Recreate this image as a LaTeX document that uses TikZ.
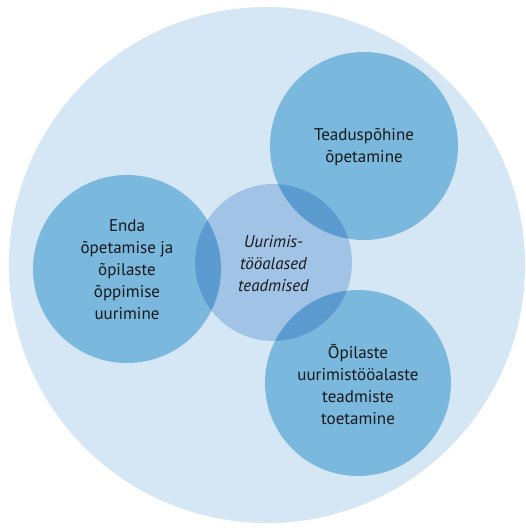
\documentclass[tikz,border=0pt]{standalone}
\usepackage{fontspec}
\setmainfont{PT Sans}
\definecolor{bgc}{RGB}{213,231,245}
\definecolor{outc}{RGB}{122,184,222}
\definecolor{midc}{RGB}{161,195,230}
\definecolor{ovc}{RGB}{92,155,208}
\begin{document}
\begin{tikzpicture}[x=1pt,y=-1pt,
  lbl/.style={align=center,font=\fontsize{17}{22}\selectfont,text=black!90}]
\useasboundingbox (0,0) rectangle (526,530);
\fill[white] (0,0) rectangle (526,530);
\begin{scope}
\clip (0,0) rectangle (526,530);
\fill[bgc] (267,265) circle (258);
\end{scope}
\fill[outc] (364,146) circle (94);
\fill[outc] (127,269) circle (94);
\fill[outc] (358,383) circle (93);
\fill[midc] (273.5,262.5) circle (78.5);
\begin{scope}
\clip (273.5,262.5) circle (78.5);
\fill[ovc] (364,146) circle (94);
\fill[ovc] (127,269) circle (94);
\fill[ovc] (358,383) circle (93);
\end{scope}
\node[lbl] (tr) at (364,147) {Teaduspõhine\\õpetamine};
\node[lbl] (l) at (127,270) {Enda\\õpetamise ja\\õpilaste\\õppimise\\uurimine};
\node[lbl,font=\fontsize{17}{22}\selectfont\itshape] (c) at (273.5,264) {Uurimis-\\tööalased\\teadmised};
\node[lbl] (br) at (358,384) {Õpilaste\\uurimistööalaste\\teadmiste\\toetamine};
\end{tikzpicture}
\end{document}
